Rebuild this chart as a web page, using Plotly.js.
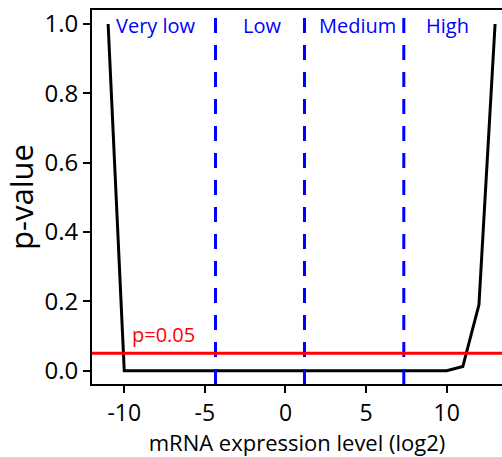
<!DOCTYPE html>
<html>
<head>
<meta charset="utf-8">
<script src="https://cdn.plot.ly/plotly-3.0.1.min.js"></script>
<style>html,body{margin:0;padding:0;background:#fff;}#chart{width:502px;height:457px;}</style>
</head>
<body>
<div id="chart"></div>
<script>
// mRNA expression level (log2)
var expression = [-11, -10, -9, -8, -7, -6, -5, -4, -3, -2, -1, 0, 1, 2, 3, 4, 5, 6, 7, 8, 9, 10, 11, 12, 13];
var pValues = [1.0, 0, 0, 0, 0, 0, 0, 0, 0, 0, 0, 0, 0, 0, 0, 0, 0, 0, 0, 0, 0, 0, 0.012, 0.19, 1.0];
// category boundaries (dashed lines)
var boundaries = [-4.34, 1.18, 7.34];
var categoryLabels = ["Very low", "Low", "Medium", "High"];
var categoryCenters = [-8.0, -1.44, 4.45, 10.03];
var threshold = 0.05;
var thresholdLabel = "p=0.05";
var xTicks = [-10, -5, 0, 5, 10];
var yTicks = [0, 0.2, 0.4, 0.6, 0.8, 1.0];
var yTickText = ["0.0", "0.2", "0.4", "0.6", "0.8", "1.0"];

var FONT = "Open Sans, DejaVu Sans, sans-serif";
var xRange = [-12.0, 13.43];
var yRange = [-0.0384, 1.0404];

var shapes = boundaries.map(function (b) {
  return {type: "line", xref: "x", yref: "y", x0: b, x1: b, y0: yRange[0], y1: 1.025,
          line: {color: "#0000ff", width: 3, dash: "15px,12px"}};
});
shapes.push({type: "line", xref: "paper", yref: "y", x0: 0, x1: 1, y0: threshold, y1: threshold,
             line: {color: "#ff0000", width: 3}});

var annotations = categoryLabels.map(function (t, i) {
  return {text: t, x: categoryCenters[i], y: 0.995, xref: "x", yref: "y", showarrow: false,
          xanchor: "center", yanchor: "middle", font: {family: FONT, size: 20, color: "#0000ff"}};
});
annotations.push({text: thresholdLabel, x: -7.58, y: threshold + 0.055, xref: "x", yref: "y", showarrow: false,
                  xanchor: "center", yanchor: "middle", font: {family: FONT, size: 20, color: "#ff0000"}});

var trace = {x: expression, y: pValues, type: "scatter", mode: "lines",
             line: {color: "#000000", width: 3}, hoverinfo: "skip", showlegend: false};

var layout = {
  width: 502, height: 457,
  margin: {l: 92, r: 0, t: 10, b: 73, pad: 0},
  paper_bgcolor: "#ffffff", plot_bgcolor: "#ffffff",
  font: {family: FONT, color: "#000000"},
  showlegend: false,
  xaxis: {range: xRange, tickvals: xTicks, ticktext: xTicks.map(String), showgrid: false, zeroline: false,
          showline: true, linecolor: "#000000", linewidth: 2, mirror: true,
          ticks: "outside", ticklen: 7, tickwidth: 2, tickcolor: "#000000",
          tickfont: {family: FONT, size: 23, color: "#000000"},
          title: {text: "mRNA expression level (log2)", font: {family: FONT, size: 22, color: "#000000"}, standoff: 14}},
  yaxis: {range: yRange, tickvals: yTicks, ticktext: yTickText, showgrid: false, zeroline: false,
          showline: true, linecolor: "#000000", linewidth: 2,
          ticks: "outside", ticklen: 7, tickwidth: 2, tickcolor: "#000000",
          tickfont: {family: FONT, size: 24, color: "#000000"},
          title: {text: "p-value", font: {family: FONT, size: 31, color: "#000000"}, standoff: 6}},
  shapes: shapes,
  annotations: annotations
};

Plotly.newPlot("chart", [trace], layout, {displayModeBar: false, staticPlot: true});
</script>
</body>
</html>
